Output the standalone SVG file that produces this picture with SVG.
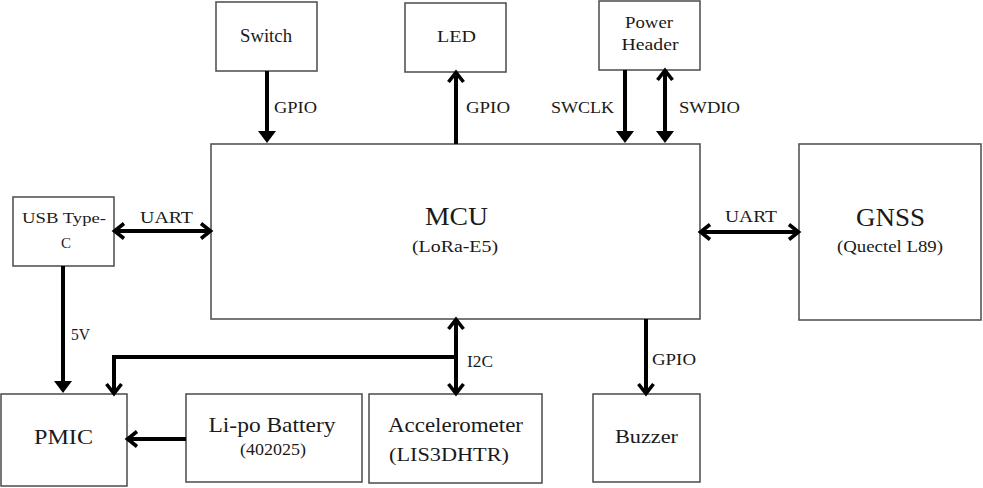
<svg xmlns="http://www.w3.org/2000/svg" width="983" height="488" viewBox="0 0 983 488">
<style>
.box{fill:#fff;stroke:#555;stroke-width:1.6}
text{font-family:"Liberation Serif","Times New Roman",serif;fill:#1a1a1a;text-anchor:middle}
.l{font-size:16px}
.w{stroke:#000;stroke-width:4;fill:none}
</style>
<defs>
<marker id="tri" markerUnits="userSpaceOnUse" markerWidth="30" markerHeight="30" refX="8" refY="9" orient="auto-start-reverse" overflow="visible">
<path d="M0,0 L12,9 L0,18 z" fill="#000"/>
</marker>
<marker id="chev" markerUnits="userSpaceOnUse" markerWidth="30" markerHeight="30" refX="10" refY="9" orient="auto-start-reverse" overflow="visible">
<path d="M1,1.5 L10.5,9 L1,16.5" fill="none" stroke="#000" stroke-width="3.6"/>
</marker>
</defs>
<rect width="983" height="488" fill="#fff"/>
<g id="switch"><rect class="box" x="216" y="2" width="101" height="69"/><text x="266" y="42" font-size="18" textLength="52" lengthAdjust="spacingAndGlyphs">Switch</text></g>
<g id="led"><rect class="box" x="405" y="3" width="101" height="69"/><text x="456.5" y="42" font-size="17" textLength="39" lengthAdjust="spacingAndGlyphs">LED</text></g>
<g id="powerheader"><rect class="box" x="599" y="1" width="101" height="69"/><text x="649" y="28" font-size="17.5" textLength="48" lengthAdjust="spacingAndGlyphs">Power</text><text x="650" y="50" font-size="17.5" textLength="57" lengthAdjust="spacingAndGlyphs">Header</text></g>
<g id="mcu"><rect class="box" x="211" y="144" width="489" height="175"/><text x="456.5" y="225" font-size="25" textLength="63" lengthAdjust="spacingAndGlyphs">MCU</text><text x="455" y="252" font-size="17" textLength="86" lengthAdjust="spacingAndGlyphs">(LoRa-E5)</text></g>
<g id="usb"><rect class="box" x="13" y="197" width="101" height="69"/><text x="64" y="223" font-size="15.5" textLength="84" lengthAdjust="spacingAndGlyphs">USB Type-</text><text x="66" y="248" font-size="15.5" textLength="10" lengthAdjust="spacingAndGlyphs">C</text></g>
<g id="gnss"><rect class="box" x="799" y="144" width="182" height="176"/><text x="890.5" y="226" font-size="24.5" textLength="69" lengthAdjust="spacingAndGlyphs">GNSS</text><text x="890" y="252" font-size="16" textLength="106" lengthAdjust="spacingAndGlyphs">(Quectel L89)</text></g>
<g id="pmic"><rect class="box" x="1" y="394" width="126" height="92"/><text x="63.5" y="444" font-size="21.5" textLength="59" lengthAdjust="spacingAndGlyphs">PMIC</text></g>
<g id="battery"><rect class="box" x="186" y="394" width="176" height="88"/><text x="272" y="432" font-size="22" textLength="127" lengthAdjust="spacingAndGlyphs">Li-po Battery</text><text x="273" y="455" font-size="16" textLength="66" lengthAdjust="spacingAndGlyphs">(402025)</text></g>
<g id="accelerometer"><rect class="box" x="369" y="394" width="173" height="89"/><text x="455.5" y="432" font-size="21" textLength="135" lengthAdjust="spacingAndGlyphs">Accelerometer</text><text x="449" y="461" font-size="18" textLength="120" lengthAdjust="spacingAndGlyphs">(LIS3DHTR)</text></g>
<g id="buzzer"><rect class="box" x="593" y="394" width="107" height="88"/><text x="646.5" y="443" font-size="19" textLength="63" lengthAdjust="spacingAndGlyphs">Buzzer</text></g>
<g id="connectors">
<line class="w" x1="267" y1="71" x2="267" y2="139" marker-end="url(#tri)"/>
<line class="w" x1="456" y1="144" x2="456" y2="73" marker-end="url(#chev)"/>
<line class="w" x1="625" y1="70" x2="625" y2="139" marker-end="url(#tri)"/>
<line class="w" x1="665" y1="71" x2="665" y2="139" marker-start="url(#chev)" marker-end="url(#tri)"/>
<line class="w" x1="115" y1="231" x2="210" y2="231" marker-start="url(#chev)" marker-end="url(#chev)"/>
<line class="w" x1="701" y1="232" x2="798" y2="232" marker-start="url(#chev)" marker-end="url(#chev)"/>
<line class="w" x1="63" y1="266" x2="63" y2="389" marker-end="url(#tri)"/>
<line class="w" x1="456" y1="320" x2="456" y2="393" marker-start="url(#chev)" marker-end="url(#chev)"/>
<polyline class="w" points="456,357 114,357 114,393" marker-end="url(#chev)"/>
<line class="w" x1="186" y1="439" x2="128" y2="439" marker-end="url(#chev)"/>
<line class="w" x1="646" y1="319" x2="646" y2="393" marker-end="url(#chev)"/>
<text class="l" x="295.5" y="113" textLength="43" lengthAdjust="spacingAndGlyphs">GPIO</text>
<text class="l" x="488" y="113" textLength="44" lengthAdjust="spacingAndGlyphs">GPIO</text>
<text class="l" x="582.5" y="113" textLength="63" lengthAdjust="spacingAndGlyphs">SWCLK</text>
<text class="l" x="709.5" y="113" textLength="61" lengthAdjust="spacingAndGlyphs">SWDIO</text>
<text class="l" x="166.5" y="223" textLength="53" lengthAdjust="spacingAndGlyphs">UART</text>
<text class="l" x="751" y="222" textLength="52" lengthAdjust="spacingAndGlyphs">UART</text>
<text class="l" x="80.5" y="340" textLength="19" lengthAdjust="spacingAndGlyphs">5V</text>
<text class="l" x="480" y="367" textLength="26" lengthAdjust="spacingAndGlyphs">I2C</text>
<text class="l" x="674" y="365" textLength="44" lengthAdjust="spacingAndGlyphs">GPIO</text>
</g>
</svg>
